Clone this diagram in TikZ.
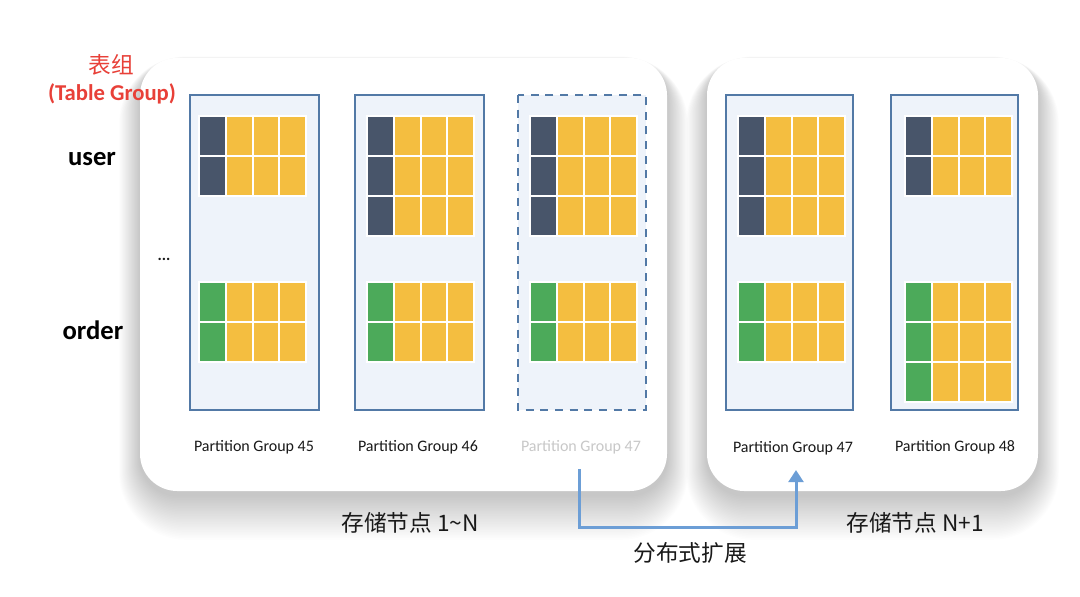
\documentclass[tikz,border=0pt]{standalone}
\usepackage{fontspec}
\setmainfont{Carlito}
\newfontfamily\cjk{Noto Sans CJK SC}
\usetikzlibrary{arrows.meta}
\definecolor{cdark}{RGB}{72,85,106}
\definecolor{cyel}{RGB}{244,190,64}
\definecolor{cgreen}{RGB}{76,170,90}
\definecolor{pgfillc}{RGB}{238,243,250}
\definecolor{pgline}{RGB}{82,121,166}
\definecolor{arrc}{RGB}{108,158,214}
\definecolor{tgred}{RGB}{232,64,56}
\definecolor{greytxt}{RGB}{200,200,200}
\newcommand\cellgrid[4]{%
  \fill[white] (#1-1.6,#2-1.6) rectangle ++(108.4,#3*40+1.2);
  \foreach \r in {1,...,#3}{%
    \fill[#4] (#1,#2+\r*40-40) rectangle ++(24.8,38);
    \foreach \c in {1,2,3}{%
      \fill[cyel] (#1+\c*26.8,#2+\r*40-40) rectangle ++(24.8,38);
    }%
  }%
}
\newcommand\panelshadow[4]{%
  \foreach \i in {1,...,28}{%
    \fill[black,opacity=0.0075,rounded corners=28+\i*0.8]
      (#1-\i*0.75,#2+4-\i*0.2) rectangle (#3+\i*0.75,#4+4+\i*1.6);
  }%
}
\tikzset{
  panel/.style={fill=white,rounded corners=28},
  pgbox/.style={fill=pgfillc,draw=pgline,line width=1.5pt},
  pgdash/.style={pgbox,dash pattern=on 6pt off 5pt},
  lbl/.style={font=\fontsize{12}{14}\selectfont,text=black!90},
  rowlbl/.style={font=\bfseries\fontsize{20}{24}\selectfont,text=black},
  tglbl/.style={font=\bfseries\fontsize{17}{20}\selectfont,text=tgred},
  cjklbl/.style={font=\cjk\fontsize{17}{20}\selectfont,text=black!90},
  arr/.style={draw=arrc,line width=2.25pt,-{Triangle[length=9pt,width=11pt]}}
}
\begin{document}
\begin{tikzpicture}[x=0.75pt,y=-0.75pt]
\useasboundingbox (0,0) rectangle (1080,596);
\fill[white] (0,0) rectangle (1080,596);
% shadows and panels
\panelshadow{140}{58}{667}{491}
\panelshadow{707}{58}{1038}{491}
\fill[panel] (140,58) rectangle (667,491);
\fill[panel] (707,58) rectangle (1038,491);
% partition boxes
\path[pgbox] (190,95) rectangle (319,410);
\path[pgbox] (355,95) rectangle (484,410);
\path[pgdash] (518,95) rectangle (646,410);
\path[pgbox] (726,95) rectangle (853,410);
\path[pgbox] (891,95) rectangle (1018,410);
% grids: user
\cellgrid{200}{117}{2}{cdark}
\cellgrid{368}{117}{3}{cdark}
\cellgrid{531}{117}{3}{cdark}
\cellgrid{739}{117}{3}{cdark}
\cellgrid{906}{117}{2}{cdark}
% grids: order
\cellgrid{200}{283}{2}{cgreen}
\cellgrid{368}{283}{2}{cgreen}
\cellgrid{531}{283}{2}{cgreen}
\cellgrid{739}{283}{2}{cgreen}
\cellgrid{906}{283}{3}{cgreen}
% left labels
\node[tglbl,font=\cjk\fontsize{17}{20}\selectfont] (tgcn) at (111,65) {表组};
\node[tglbl] (tgen) at (112,94) {(Table Group)};
\node[rowlbl] (user) at (92,159) {user};
\node[rowlbl] (order) at (93,330) {order};
\node[lbl,font=\bfseries\fontsize{12}{14}\selectfont] (dots) at (164,259) {...};
% partition labels
\node[lbl] (l45) at (254,447) {Partition Group 45};
\node[lbl] (l46) at (418,447) {Partition Group 46};
\node[lbl,text=greytxt] (l47g) at (581,447) {Partition Group 47};
\node[lbl] (l47) at (793,448) {Partition Group 47};
\node[lbl] (l48) at (955,447) {Partition Group 48};
% bottom labels
\node[cjklbl] (s1) at (410,523) {存储节点 1\textasciitilde N};
\node[cjklbl] (s2) at (915,523) {存储节点 N+1};
\node[cjklbl] (ext) at (690,553) {分布式扩展};
% arrow
\coordinate (a0) at (579,469);
\coordinate (a1) at (796,470);
\draw[arr] (a0) -- ++(0,58) -| (a1);
\end{tikzpicture}
\end{document}
